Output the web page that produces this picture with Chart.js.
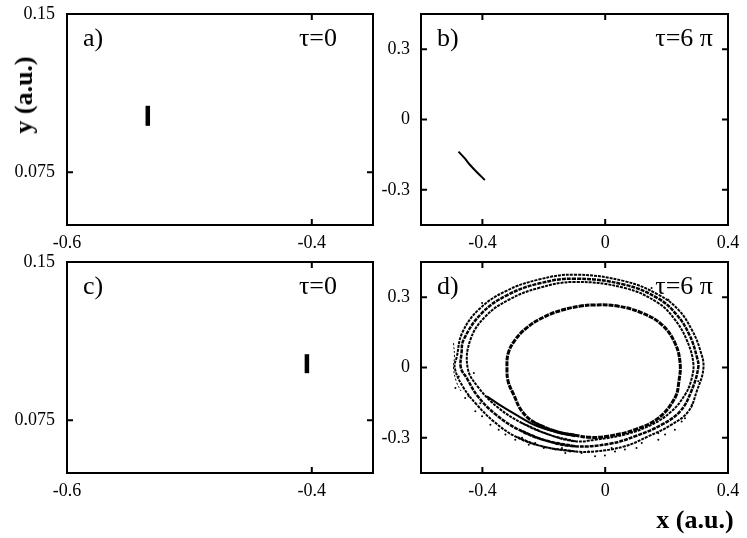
<!DOCTYPE html>
<html>
<head>
<meta charset="utf-8">
<script src="https://cdn.jsdelivr.net/npm/chart.js@4.4.0/dist/chart.umd.min.js"></script>
<style>
body{margin:0;background:#fff;width:747px;height:538px;position:relative;overflow:hidden;font-family:"Liberation Serif",serif}
canvas{position:absolute}
.lab{position:absolute;font-weight:bold;font-size:26px;white-space:nowrap;color:#000}
#ylab{left:24px;top:95px;transform:translate(-50%,-50%) rotate(-90deg)}
#xlab{left:695px;top:520px;transform:translate(-50%,-50%)}
</style>
</head>
<body>
<canvas id="pa" width="400" height="255" style="left:0;top:0"></canvas>
<canvas id="pb" width="377" height="255" style="left:370px;top:0"></canvas>
<canvas id="pc" width="400" height="253" style="left:0;top:250px"></canvas>
<canvas id="pd" width="377" height="253" style="left:370px;top:250px"></canvas>
<div class="lab" id="ylab">y (a.u.)</div>
<div class="lab" id="xlab">x (a.u.)</div>
<script>
// tick labels
const zoomTicksX = [-0.6, -0.4];
const zoomTicksY = [0.075, 0.15];
const wideTicksX = [-0.4, 0, 0.4];
const wideTicksY = [-0.3, 0, 0.3];

// a) tau=0, short initial segment
const segAX = [-0.534, -0.534];
const segAY = [0.097, 0.1065];
// c) tau=0
const segCX = [-0.404, -0.404];
const segCY = [0.0973, 0.1063];
// b) tau=6 pi
const arcBX = [-0.478, -0.458, -0.440, -0.417, -0.392];
const arcBY = [-0.137, -0.165, -0.194, -0.226, -0.258];

// d) tau=6 pi, traced strands (each starts near the bottom and overlaps its start)
const innerX = [-0.098, -0.162, -0.228, -0.271, -0.298, -0.316, -0.320, -0.316, -0.295, -0.255, -0.200, -0.140, -0.080, -0.033, 0.040, 0.119, 0.184, 0.227, 0.244, 0.240, 0.227, 0.173, 0.097, 0.010, -0.050, -0.098, -0.162, -0.228];
const innerY = [-0.289, -0.272, -0.237, -0.187, -0.116, -0.060, -0.002, 0.060, 0.115, 0.170, 0.215, 0.245, 0.262, 0.267, 0.262, 0.233, 0.183, 0.105, 0.019, -0.060, -0.130, -0.216, -0.265, -0.293, -0.298, -0.289, -0.272, -0.237];

const outerX = [-0.098, -0.206, -0.293, -0.363, -0.418, -0.461, -0.490, -0.483, -0.466, -0.412, -0.325, -0.217, -0.098, 0.064, 0.173, 0.238, 0.282, 0.309, 0.320, 0.298, 0.271, 0.216, 0.140, 0.064, -0.033, -0.098, -0.206, -0.293];
const outerY = [-0.358, -0.336, -0.294, -0.230, -0.159, -0.087, -0.002, 0.048, 0.147, 0.247, 0.325, 0.375, 0.396, 0.368, 0.311, 0.247, 0.161, 0.076, -0.002, -0.102, -0.187, -0.244, -0.294, -0.336, -0.358, -0.358, -0.336, -0.294];

const midX = [-0.098, -0.195, -0.282, -0.356, -0.415, -0.451, -0.470, -0.468, -0.461, -0.401, -0.320, -0.217, -0.098, 0.064, 0.173, 0.233, 0.274, 0.298, 0.303, 0.278, 0.244, 0.184, 0.102, 0.016, -0.098, -0.195, -0.282];
const midY = [-0.336, -0.311, -0.265, -0.201, -0.123, -0.045, -0.002, 0.060, 0.119, 0.233, 0.308, 0.358, 0.379, 0.353, 0.294, 0.225, 0.140, 0.048, -0.002, -0.109, -0.187, -0.244, -0.291, -0.325, -0.336, -0.311, -0.265];

const bandInX = [-0.098, -0.184, -0.271, -0.347, -0.412, -0.448, -0.439, -0.390, -0.314, -0.217, -0.098, 0.064, 0.173, 0.227, 0.265, 0.287, 0.280, 0.260, 0.216, 0.151, 0.064, -0.033, -0.098, -0.184, -0.271];
const bandInY = [-0.315, -0.286, -0.237, -0.173, -0.087, -0.002, 0.119, 0.218, 0.289, 0.339, 0.365, 0.339, 0.275, 0.204, 0.119, 0.019, -0.055, -0.116, -0.187, -0.244, -0.286, -0.308, -0.315, -0.286, -0.237];

const spiralX = [-0.385, -0.336, -0.282, -0.228, -0.162, -0.098];
const spiralY = [-0.123, -0.166, -0.208, -0.247, -0.275, -0.293];

const farX = [-0.494, -0.491, -0.494, -0.485, -0.470];
const farY = [0.104, 0.048, -0.002, -0.060, -0.100];

const dotsX = [-0.456, -0.423, -0.401, -0.374, -0.325, -0.293, -0.249, -0.200, -0.162, -0.130, -0.488, -0.428, -0.077, -0.001, 0.064, 0.102, 0.173, 0.227, 0.260, 0.173, 0.032, -0.033, -0.401, -0.347, 0.151, 0.206,
  -0.477, -0.445, -0.407, -0.347, -0.271, -0.228, -0.141, -0.114, -0.055, 0.021, 0.119, 0.195, 0.249, 0.282, 0.303];
const dotsY = [-0.130, -0.187, -0.208, -0.244, -0.286, -0.308, -0.329, -0.343, -0.350, -0.365, -0.087, -0.023, -0.365, -0.375, -0.350, -0.343, -0.308, -0.265, -0.216, -0.280, -0.358, -0.379, 0.275, 0.311, 0.339, 0.289,
  -0.038, -0.123, -0.152, -0.265, -0.300, -0.322, -0.343, -0.358, -0.358, -0.343, -0.322, -0.286, -0.230, -0.159, -0.059];

const pts = (xs, ys) => xs.map((x, i) => ({x, y: ys[i]}));

const framePlugin = {
  id: 'frame',
  afterDatasetsDraw(chart, args, o) {
    const {ctx, chartArea: a, scales: {x, y}} = chart;
    ctx.save();
    ctx.strokeStyle = '#000';
    ctx.lineWidth = 2;
    ctx.beginPath();
    x.ticks.forEach(t => {
      const p = x.getPixelForValue(t.value);
      ctx.moveTo(p, a.bottom); ctx.lineTo(p, a.bottom - 6);
      ctx.moveTo(p, a.top); ctx.lineTo(p, a.top + 6);
    });
    y.ticks.forEach(t => {
      const p = y.getPixelForValue(t.value);
      ctx.moveTo(a.left, p); ctx.lineTo(a.left + 6, p);
      ctx.moveTo(a.right, p); ctx.lineTo(a.right - 6, p);
    });
    ctx.stroke();
    ctx.strokeRect(a.left, a.top, a.width, a.height);
    ctx.fillStyle = '#000';
    ctx.font = '26px "Liberation Serif"';
    ctx.textAlign = 'left';
    ctx.fillText(o.tag, a.left + 16, a.top + 32);
    ctx.textAlign = 'right';
    ctx.fillText(o.tau, a.right - o.tauGap, a.top + 32);
    ctx.restore();
  }
};

function axis(min, max, ticks, pos, size, pad) {
  return {
    type: 'linear', position: pos, min, max,
    grid: {display: false, drawTicks: false}, border: {display: false},
    ticks: {color: '#000', padding: pad, autoSkip: false,
      font: {family: '"Liberation Serif"', size: 18},
      callback: v => String(v)},
    afterBuildTicks: s => { s.ticks = ticks.map(v => ({value: v})); },
    afterFit: s => {
      if (pos === 'left') s.width = size; else s.height = size;
      s.paddingTop = s.paddingBottom = s.paddingLeft = s.paddingRight = 0;
    }
  };
}

function panel(id, datasets, xs, ys, pad, text) {
  new Chart(document.getElementById(id), {
    type: 'scatter',
    data: {datasets},
    options: {
      responsive: false, animation: false, devicePixelRatio: 1,
      layout: {padding: pad},
      plugins: {legend: {display: false}, tooltip: {enabled: false}, frame: text},
      scales: {x: xs, y: ys}
    },
    plugins: [framePlugin]
  });
}

function line(xs, ys, w, extra) {
  return Object.assign({data: pts(xs, ys), showLine: true, borderColor: '#000',
    borderWidth: w, pointRadius: 0, fill: false, tension: 0.4}, extra || {});
}

panel('pa', [line(segAX, segAY, 4.5, {borderCapStyle: 'butt', tension: 0})],
  axis(-0.6, -0.35, zoomTicksX, 'bottom', 30, 7),
  axis(0.05, 0.15, zoomTicksY, 'left', 67, 12),
  {top: 14, right: 27, left: 0, bottom: 0},
  {tag: 'a)', tau: 'τ=0', tauGap: 36});

panel('pb', [line(arcBX, arcBY, 2, {tension: 0.3})],
  axis(-0.6, 0.4, wideTicksX, 'bottom', 30, 7),
  axis(-0.45, 0.45, wideTicksY, 'left', 51, 11),
  {top: 14, right: 19, left: 0, bottom: 0},
  {tag: 'b)', tau: 'τ=6 π', tauGap: 15});

panel('pc', [line(segCX, segCY, 4.5, {borderCapStyle: 'butt', tension: 0})],
  axis(-0.6, -0.35, zoomTicksX, 'bottom', 30, 7),
  axis(0.05, 0.15, zoomTicksY, 'left', 67, 12),
  {top: 12, right: 27, left: 0, bottom: 0},
  {tag: 'c)', tau: 'τ=0', tauGap: 36});

panel('pd', [
    line(innerX, innerY, 3, {borderDash: [5, 1]}),
    line(outerX, outerY, 2, {borderDash: [3, 1]}),
    line(midX, midY, 2.5, {borderDash: [4, 1]}),
    line(bandInX, bandInY, 2, {borderDash: [3, 1]}),
    line(spiralX, spiralY, 2),
    line(farX, farY, 1, {borderDash: [2, 2]}),
    {data: pts(dotsX, dotsY), pointRadius: 1, backgroundColor: '#000', borderWidth: 0}
  ],
  axis(-0.6, 0.4, wideTicksX, 'bottom', 30, 7),
  axis(-0.45, 0.45, wideTicksY, 'left', 51, 11),
  {top: 12, right: 19, left: 0, bottom: 0},
  {tag: 'd)', tau: 'τ=6 π', tauGap: 15});
</script>
</body>
</html>
